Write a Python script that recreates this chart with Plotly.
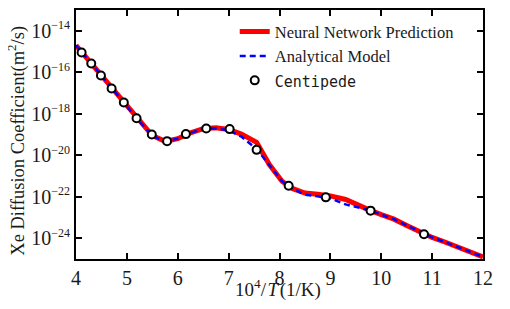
import plotly.graph_objects as go

# Neural network prediction (x = 10^4/T, y = log10 D)
nn_x = [4.0, 4.25, 4.5, 4.75, 5.0, 5.25, 5.5, 5.75, 6.0, 6.25, 6.5, 6.75, 7.0, 7.25, 7.55,
        7.8, 8.05, 8.25, 8.5, 8.75, 9.0, 9.3, 9.5, 9.75, 10.0, 10.25, 10.5, 10.75, 11.0,
        11.25, 11.5, 11.75, 12.0]
nn_logy = [-14.7, -15.42, -16.17, -16.9, -17.65, -18.38, -19.05, -19.33, -19.2, -18.92,
           -18.72, -18.68, -18.76, -18.98, -19.38, -20.45, -21.25, -21.6, -21.82, -21.88,
           -21.96, -22.13, -22.36, -22.62, -22.86, -23.08, -23.38, -23.68, -23.96, -24.18,
           -24.42, -24.64, -24.9]

# Analytical model
am_x = [4.0, 4.25, 4.5, 4.75, 5.0, 5.25, 5.5, 5.75, 6.0, 6.25, 6.5, 6.75, 7.0, 7.25, 7.55,
        7.8, 8.05, 8.25, 8.5, 8.75, 9.0, 9.3, 9.5, 9.75, 10.0, 10.25, 10.5, 10.75, 11.0,
        11.25, 11.5, 11.75, 12.0]
am_logy = [-14.7, -15.42, -16.17, -16.9, -17.65, -18.38, -19.05, -19.33, -19.2, -18.92,
           -18.74, -18.7, -18.8, -19.1, -19.7, -20.5, -21.25, -21.6, -21.9, -21.98,
           -22.08, -22.37, -22.48, -22.64, -22.86, -23.08, -23.38, -23.68, -23.96, -24.18,
           -24.42, -24.64, -24.9]

# Centipede simulation points
cp_x = [4.11, 4.30, 4.49, 4.70, 4.94, 5.19, 5.49, 5.79, 6.16, 6.56, 7.02, 7.55, 8.18,
        8.91, 9.79, 10.84]
cp_logy = [-15.05, -15.58, -16.16, -16.78, -17.46, -18.22, -19.0, -19.32, -18.98, -18.71,
           -18.74, -19.74, -21.47, -22.03, -22.67, -23.81]

# y tick exponents
y_tick_exp = [-14, -16, -18, -20, -22, -24]

x_title = "10<sup>4</sup>/\u200a<i>T</i>\u200a(1/K)"
y_title = "Xe Diffusion Coefficient(m<sup>2</sup>/s)"

nn_y = [10 ** v for v in nn_logy]
am_y = [10 ** v for v in am_logy]
cp_y = [10 ** v for v in cp_logy]
y_tickvals = [10 ** e for e in y_tick_exp]
y_ticktext = ["10<sup><span style='font-size:12px'>\u2212%d</span></sup>" % (-e) for e in y_tick_exp]

serif = "Liberation Serif"
ink = "#1a1a1a"

fig = go.Figure()
fig.add_trace(go.Scatter(x=nn_x, y=nn_y, mode="lines", name="Neural Network Prediction",
                         line=dict(color="#ff0000", width=5)))
fig.add_trace(go.Scatter(x=am_x, y=am_y, mode="lines", name="Analytical Model",
                         line=dict(color="#0000ff", width=2.5, dash="6px,4px")))
fig.add_trace(go.Scatter(x=cp_x, y=cp_y, mode="markers",
                         name="<span style='font-family:DejaVu Sans Mono;font-size:15px'>Centipede</span>",
                         marker=dict(color="white", size=8, line=dict(color="black", width=2))))

axis_common = dict(showline=True, linecolor="black", linewidth=2, mirror="ticks",
                   ticks="inside", ticklen=6, tickwidth=1.5, tickcolor="black",
                   showgrid=False, zeroline=False, automargin=False,
                   tickfont=dict(family=serif, size=20, color=ink))

fig.update_xaxes(range=[4, 12], dtick=1, **axis_common)
fig.update_yaxes(type="log", range=[-25, -13], tickmode="array",
                 tickvals=y_tickvals, ticktext=y_ticktext, **axis_common)

fig.add_annotation(text=x_title, xref="paper", yref="paper", x=0.497, y=-0.118,
                   xanchor="center", yanchor="middle", showarrow=False,
                   font=dict(family=serif, size=19, color=ink))
fig.add_annotation(text=y_title, xref="paper", yref="paper", x=-0.145, y=0.475,
                   xanchor="center", yanchor="middle", showarrow=False, textangle=-90,
                   font=dict(family=serif, size=18.5, color=ink))

fig.update_layout(
    width=502, height=301,
    margin=dict(l=68, r=27, t=2, b=49.5),
    paper_bgcolor="white", plot_bgcolor="white",
    showlegend=True,
    legend=dict(x=0.39, y=0.983, xanchor="left", yanchor="top", bgcolor="rgba(0,0,0,0)",
                font=dict(family=serif, size=16.5, color=ink), tracegroupgap=0,
                itemwidth=30),
)

fig.write_html("out.html")
